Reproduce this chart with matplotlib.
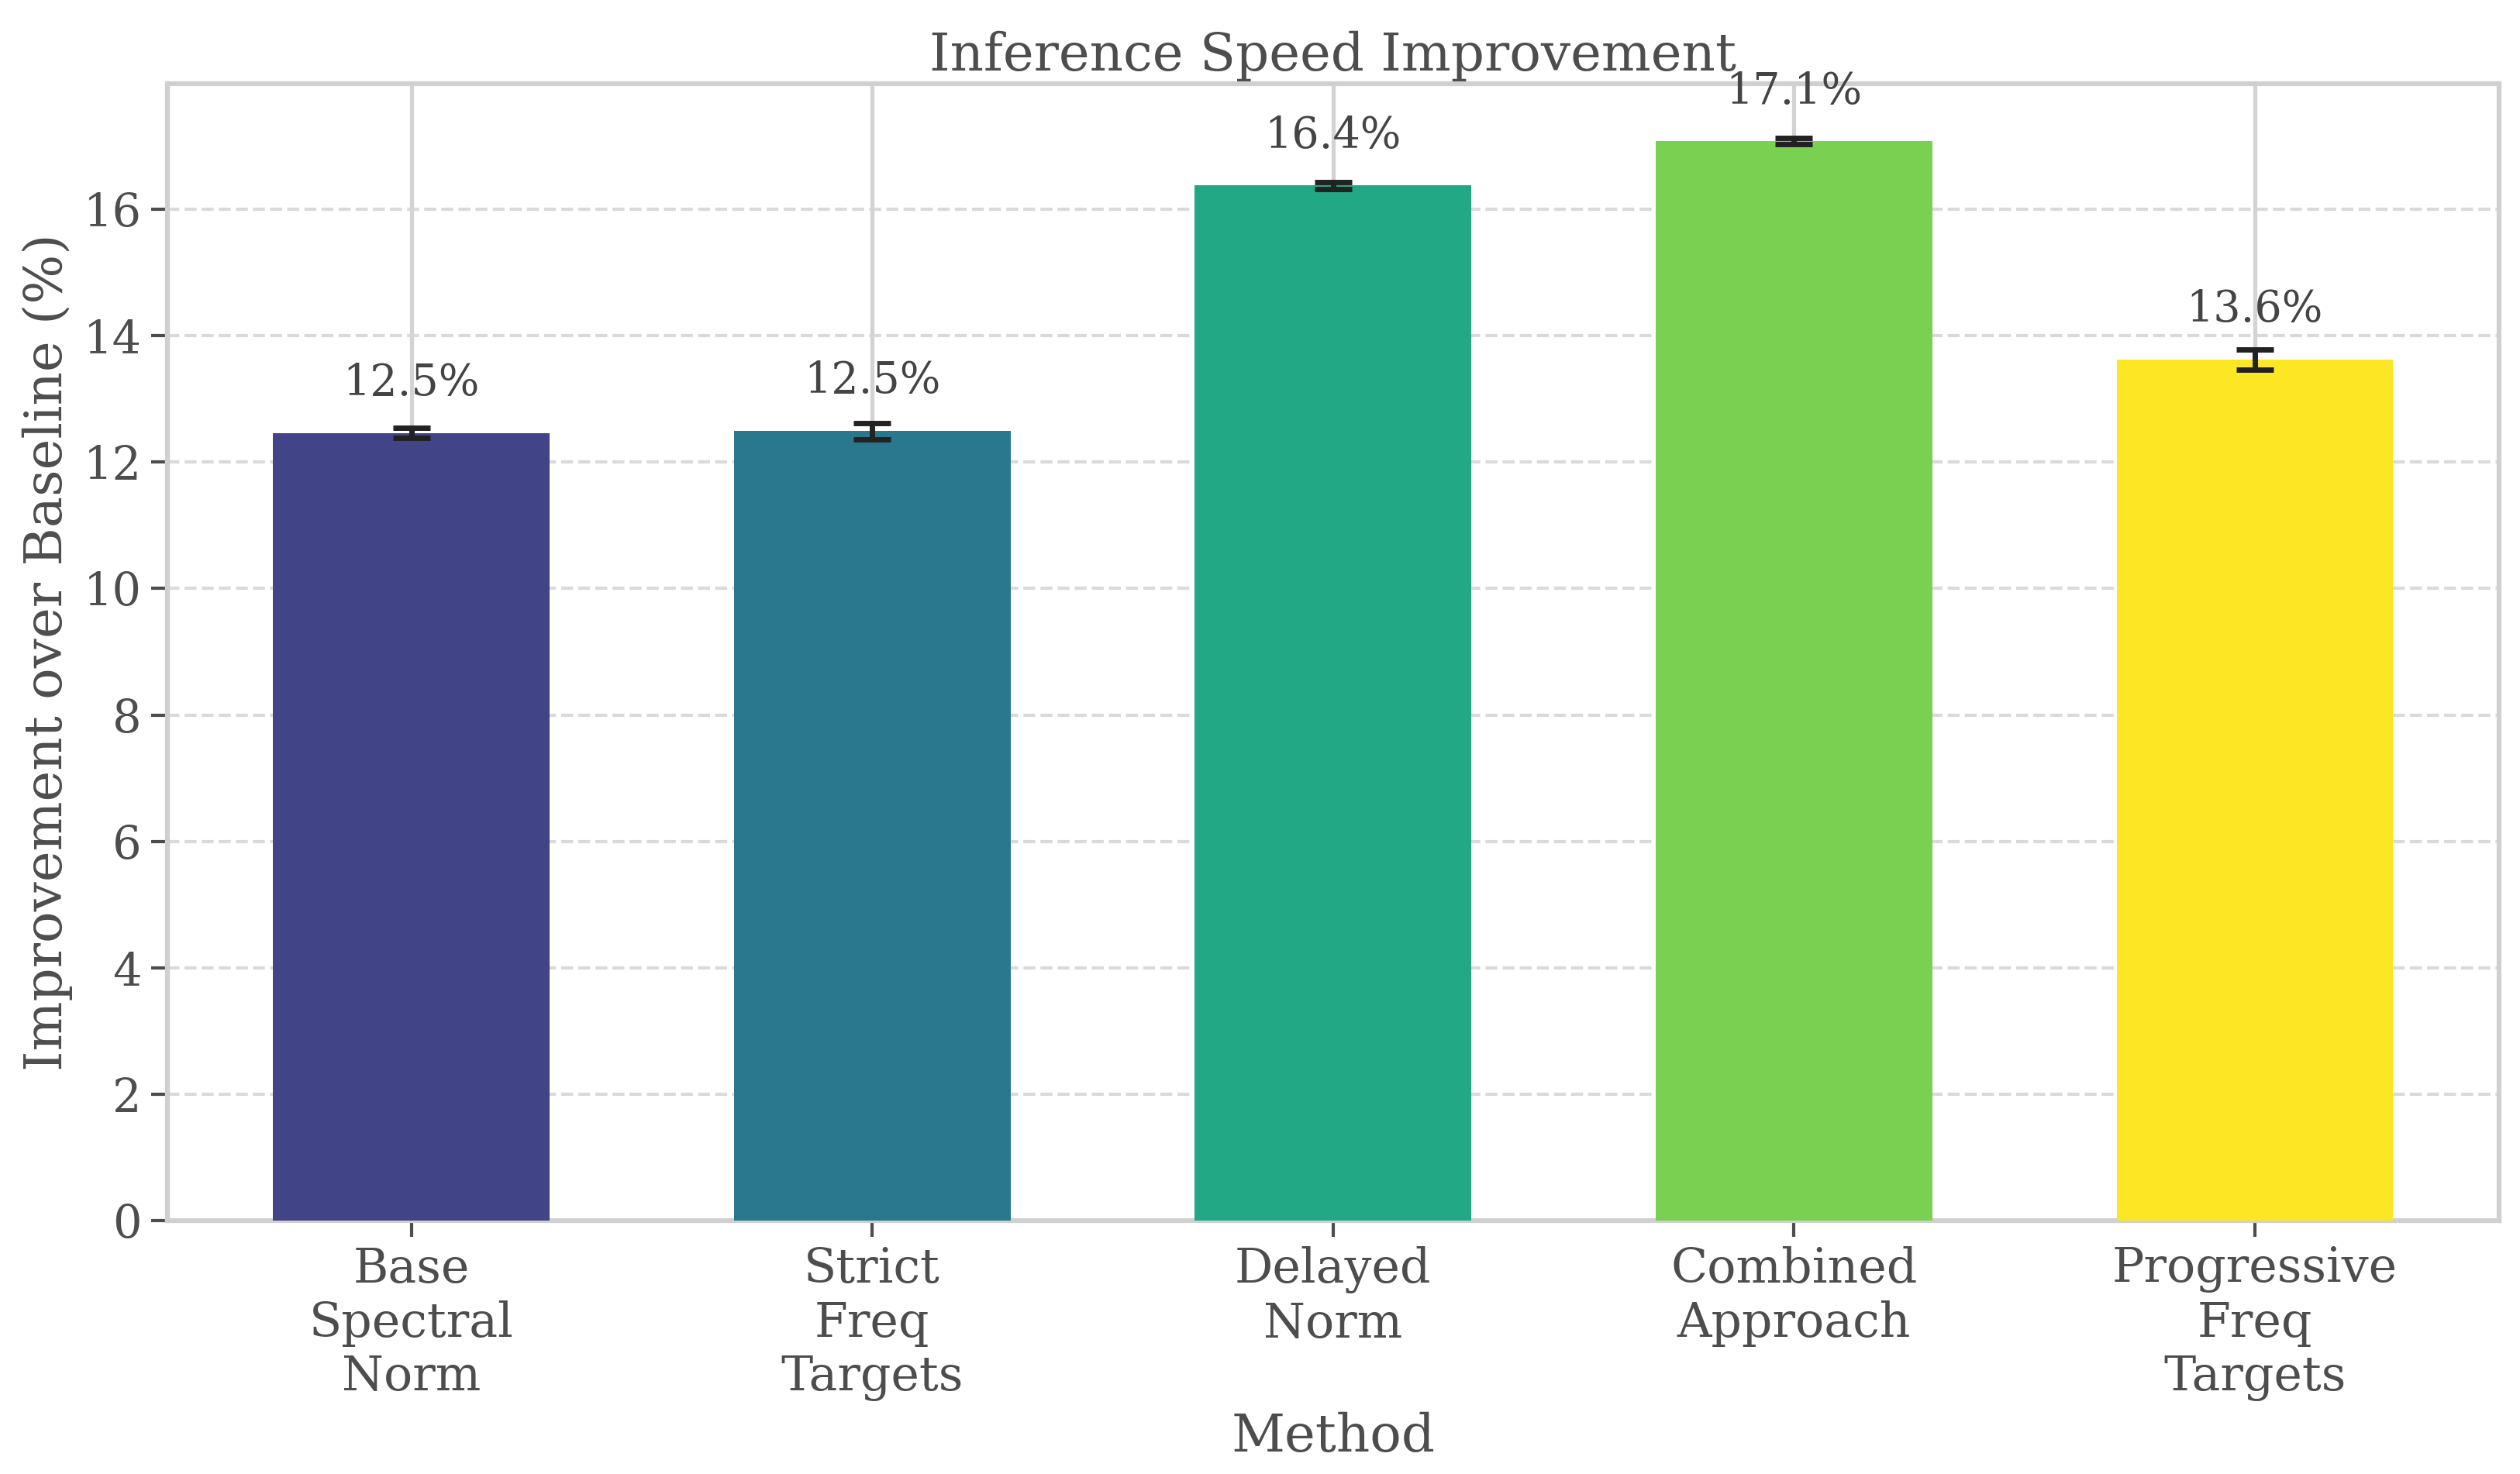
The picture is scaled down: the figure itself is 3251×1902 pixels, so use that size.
import numpy as np
import matplotlib.pyplot as plt

methods = ['Base\nSpectral\nNorm', 'Strict\nFreq\nTargets', 'Delayed\nNorm',
           'Combined\nApproach', 'Progressive\nFreq\nTargets']
improvement = [12.46, 12.49, 16.37, 17.07, 13.62]
improvement_err = [0.08, 0.13, 0.06, 0.05, 0.16]

TEXT = '#4d4d4d'
plt.rcParams['font.family'] = 'DejaVu Serif'
plt.rcParams['text.color'] = TEXT
plt.rcParams['axes.labelcolor'] = TEXT
plt.rcParams['xtick.color'] = TEXT
plt.rcParams['ytick.color'] = TEXT

fig, ax = plt.subplots(figsize=(13.004, 7.608), dpi=250)
fig.subplots_adjust(left=0.0663, right=0.9917, top=0.943, bottom=0.1717)

colors = plt.cm.viridis(np.linspace(0.2, 1.0, len(methods)))
x = np.arange(len(methods))
bars = ax.bar(x, improvement, width=0.6, color=colors, yerr=improvement_err,
              capsize=7, error_kw=dict(ecolor='#222222', elinewidth=2, capthick=2),
              zorder=3)

# etiquetas encima de cada barra
for xi, h in zip(x, improvement):
    ax.text(xi, h + 0.45, f'{h:.1f}%', ha='center', va='bottom', fontsize=16,
            color='#444444', zorder=4)

ax.set_xticks(x)
ax.set_xticklabels(methods, fontsize=17.8)
ax.tick_params(axis='y', labelsize=17)
ax.tick_params(axis='both', length=6, width=1.2, color=TEXT)

ax.set_title('Inference Speed Improvement', fontsize=19.4, pad=5)
ax.set_xlabel('Method', fontsize=19.4)
ax.set_ylabel('Improvement over Baseline (%)', fontsize=19.4)

ax.set_axisbelow(True)
ax.grid(axis='x', color='#d3d3d3', linewidth=1.5, linestyle='-')
ax.grid(axis='y', color='#d6d6d6', linewidth=1.2, linestyle='--', alpha=0.9)
for s in ax.spines.values():
    s.set_color('#d0d0d0')
    s.set_linewidth(1.8)

plt.savefig('out.png', dpi=250)
